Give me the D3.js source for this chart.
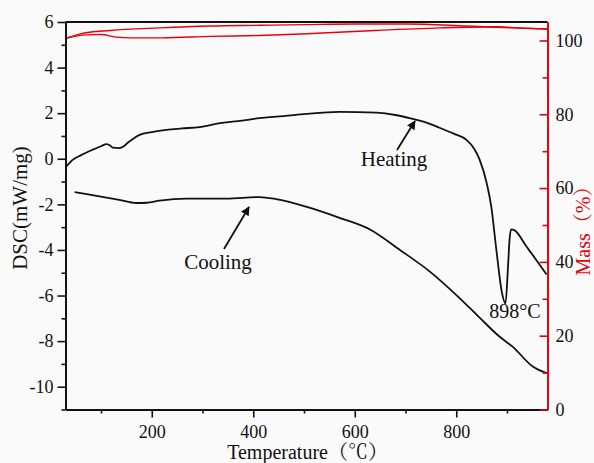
<!DOCTYPE html>
<html>
<head>
<meta charset="utf-8">
<script src="https://cdn.jsdelivr.net/npm/d3@7"></script>
<style>
  body { margin: 0; background: #fafafa; }
  svg { display: block; }
  text { font-family: "Liberation Serif", "Noto Serif CJK SC", "Noto Sans CJK SC", serif; }
</style>
</head>
<body>
<svg id="chart" width="594" height="463"></svg>
<script>
// DSC heating curve: [temperature, mW/mg]
var heatingDSC = [
  [30,-0.39],[44,-0.05],[60,0.15],[83,0.39],[100,0.55],[111,0.64],[118,0.58],[123,0.49],
  [136,0.47],[145,0.55],[152,0.69],[165,0.9],[176,1.05],[200,1.17],[229,1.27],[260,1.33],
  [294,1.39],[334,1.56],[370,1.65],[412,1.78],[460,1.87],[504,1.97],[570,2.06],[643,2.02],
  [680,1.92],[714,1.75],[740,1.6],[767,1.36],[795,1.1],[820,0.83],[835,0.45],[846,-0.04],
  [860,-1.07],[869,-2.1],[879,-3.99],[890,-5.87],[897,-6.35],[902,-4.73],[905,-3.55],
  [908,-3.1],[915,-3.14],[938,-3.84],[958,-4.45],[978,-5.08]
];
// DSC cooling curve
var coolingDSC = [
  [48,-1.46],[97,-1.65],[136,-1.8],[169,-1.94],[190,-1.93],[215,-1.84],[268,-1.75],
  [347,-1.75],[412,-1.68],[445,-1.77],[504,-2.1],[570,-2.59],[630,-3.1],[689,-4.0],
  [748,-4.95],[806,-6.1],[846,-6.97],[885,-7.8],[911,-8.24],[950,-9.1],[980,-9.42]
];
// mass curves: [temperature, %]
var massUpper = [
  [31,100.6],[59,101.8],[118,102.7],[216,103.4],[315,103.9],[413,104.1],[506,104.3],
  [600,104.45],[703,104.45],[821,103.9],[912,103.4],[980,103.1]
];
var massLower = [
  [31,100.6],[70,101.5],[100,101.6],[130,100.9],[160,100.7],[220,100.7],[315,101.1],
  [413,101.35],[506,101.8],[640,102.7],[770,103.4],[880,103.7],[920,103.4],[980,103.1]
];

var xMajor = [200, 400, 600, 800];
var xMinor = [100, 300, 500, 700, 900];
var dscMajor = [-10, -8, -6, -4, -2, 0, 2, 4, 6];
var dscMinor = [-11, -9, -7, -5, -3, -1, 1, 3, 5];
var massMajor = [0, 20, 40, 60, 80, 100];
var massMinor = [10, 30, 50, 70, 90];

var svg = d3.select('#chart');
var plotLeft = 65.5, plotRight = 547.6, plotTop = 22, plotBottom = 409.5;
var red = '#e8000b';
var plainFmt = function(d) { return String(d); };

var x = d3.scaleLinear().domain([30, 980]).range([plotLeft, plotRight]);
var y = d3.scaleLinear().domain([-11, 6]).range([plotBottom, plotTop]);
var yMass = d3.scaleLinear().domain([0, 105]).range([plotBottom, plotTop]);

// mass curves
var massLine = d3.line()
  .x(function(d) { return x(d[0]); })
  .y(function(d) { return yMass(d[1]); })
  .curve(d3.curveMonotoneX);

[massUpper, massLower].forEach(function(s) {
  svg.append('path').datum(s)
    .attr('d', massLine)
    .attr('fill', 'none')
    .attr('stroke', red)
    .attr('stroke-width', 1.4);
});

// DSC curves
var dscLine = d3.line()
  .x(function(d) { return x(d[0]); })
  .y(function(d) { return y(d[1]); })
  .curve(d3.curveMonotoneX);

[heatingDSC, coolingDSC].forEach(function(s) {
  svg.append('path').datum(s)
    .attr('d', dscLine)
    .attr('fill', 'none')
    .attr('stroke', '#111')
    .attr('stroke-width', 1.8);
});

// axes
function styleAxis(g, color) {
  g.selectAll('path').attr('stroke', color).attr('stroke-width', 1.8);
  g.selectAll('line').attr('stroke', color).attr('stroke-width', 1.6);
  g.selectAll('text').attr('fill', '#111').attr('font-size', 18)
    .style('font-family', '"Liberation Serif", serif');
}

// top border
svg.append('line')
  .attr('x1', plotLeft).attr('x2', plotRight).attr('y1', plotTop).attr('y2', plotTop)
  .attr('stroke', '#111').attr('stroke-width', 1.8);

var gxMinor = svg.append('g').attr('transform', 'translate(0,' + plotBottom + ')')
  .call(d3.axisBottom(x).tickValues(xMinor).tickSize(4).tickFormat('').tickSizeOuter(0));
styleAxis(gxMinor, '#111');
var gx = svg.append('g').attr('transform', 'translate(0,' + plotBottom + ')')
  .call(d3.axisBottom(x).tickValues(xMajor).tickSize(8).tickPadding(8)
    .tickFormat(plainFmt).tickSizeOuter(0));
styleAxis(gx, '#111');

var gyMinor = svg.append('g').attr('transform', 'translate(' + plotLeft + ',0)')
  .call(d3.axisLeft(y).tickValues(dscMinor).tickSize(4).tickFormat('').tickSizeOuter(0));
styleAxis(gyMinor, '#111');
var gy = svg.append('g').attr('transform', 'translate(' + plotLeft + ',0)')
  .call(d3.axisLeft(y).tickValues(dscMajor).tickSize(8).tickPadding(4)
    .tickFormat(plainFmt).tickSizeOuter(0));
styleAxis(gy, '#111');

// right mass axis, ticks inward
var grMinor = svg.append('g').attr('transform', 'translate(' + plotRight + ',0)')
  .call(d3.axisRight(yMass).tickValues(massMinor).tickSize(-5).tickFormat('').tickSizeOuter(0));
styleAxis(grMinor, red);
var gr = svg.append('g').attr('transform', 'translate(' + plotRight + ',0)')
  .call(d3.axisRight(yMass).tickValues(massMajor).tickSize(-8).tickPadding(8)
    .tickFormat(plainFmt).tickSizeOuter(0));
styleAxis(gr, red);
gr.selectAll('text').attr('x', 8);

// axis titles
svg.append('text')
  .attr('x', (plotLeft + plotRight) / 2 + 1).attr('y', 459)
  .attr('text-anchor', 'middle').attr('font-size', 20).attr('fill', '#111')
  .text('Temperature（℃）');

svg.append('text')
  .attr('transform', 'translate(27,208) rotate(-90)')
  .attr('text-anchor', 'middle').attr('font-size', 21).attr('fill', '#111')
  .text('DSC(mW/mg)');

svg.append('text')
  .attr('transform', 'translate(590,226) rotate(-90)')
  .attr('text-anchor', 'middle').attr('font-size', 20).attr('fill', red)
  .text('Mass（%）');

// annotations
var defs = svg.append('defs');
defs.append('marker')
  .attr('id', 'arrow')
  .attr('viewBox', '0 0 10 10')
  .attr('refX', 9).attr('refY', 5)
  .attr('markerWidth', 5).attr('markerHeight', 5)
  .attr('orient', 'auto')
  .append('path')
  .attr('d', 'M0,0 L10,5 L0,10 Z')
  .attr('fill', '#111');

svg.append('line')
  .attr('x1', 397).attr('y1', 150).attr('x2', 415).attr('y2', 121)
  .attr('stroke', '#111').attr('stroke-width', 1.8)
  .attr('marker-end', 'url(#arrow)');
svg.append('text')
  .attr('x', 394).attr('y', 166).attr('text-anchor', 'middle')
  .attr('font-size', 21).attr('fill', '#111').text('Heating');

svg.append('line')
  .attr('x1', 224).attr('y1', 249).attr('x2', 249).attr('y2', 207)
  .attr('stroke', '#111').attr('stroke-width', 1.8)
  .attr('marker-end', 'url(#arrow)');
svg.append('text')
  .attr('x', 218).attr('y', 269).attr('text-anchor', 'middle')
  .attr('font-size', 21).attr('fill', '#111').text('Cooling');

svg.append('text')
  .attr('x', 515).attr('y', 318).attr('text-anchor', 'middle')
  .attr('font-size', 20).attr('fill', '#111').text('898°C');
</script>
</body>
</html>
